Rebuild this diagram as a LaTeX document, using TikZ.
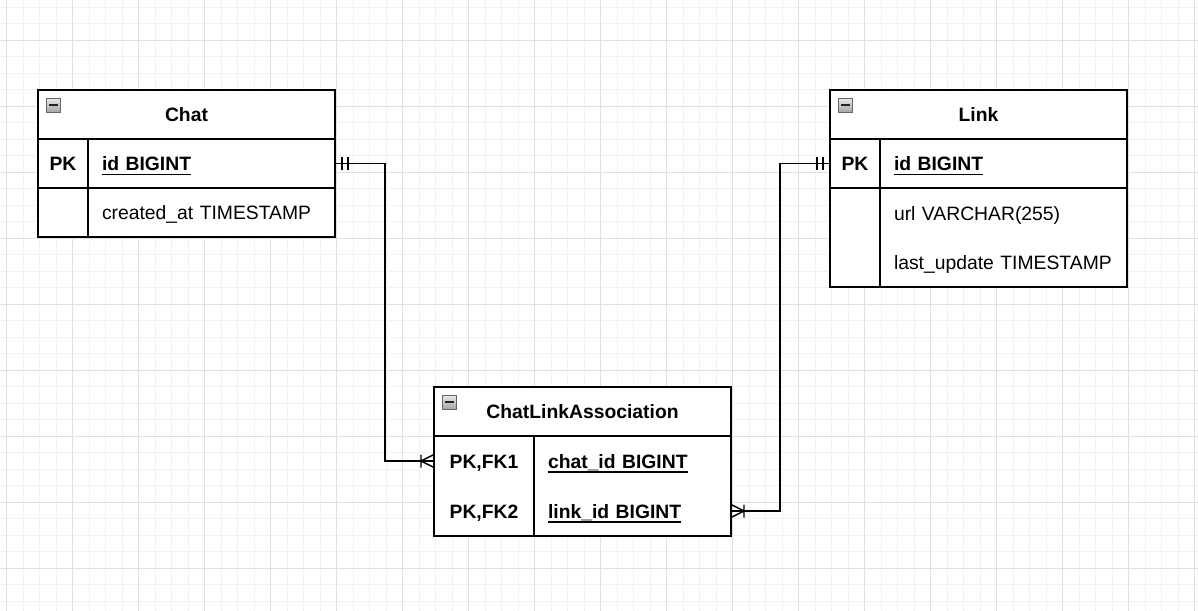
\documentclass[tikz,border=0pt]{standalone}
\usepackage{fontspec}
\setmainfont{Liberation Sans}
\usetikzlibrary{positioning, fit, decorations.markings}
% Subrayado de campos clave
\newcommand{\ulfield}[1]{\setbox0\hbox{#1}\rlap{\rule[-2.4pt]{\wd0}{0.7pt}}\box0}

\begin{document}
\begin{tikzpicture}[
    line width=0.7pt,
    font=\fontsize{11}{13}\selectfont,
    % Estilo para la cuadricula de fondo
    gridminor/.style={draw=black!5, line width=0.4pt},
    gridmajor/.style={draw=black!12, line width=0.5pt},
    % Estilo para la cabecera de cada tabla
    headbox/.style={
        draw,
        fill=white,
        minimum width=5.94cm,
        minimum height=0.98cm,
        text height=9.5pt,
        text depth=1pt,
        inner sep=0pt,
        outer sep=0pt,
        font=\fontsize{11}{13}\selectfont\bfseries
    },
    % Estilo para el icono de plegado (cuadro gris con signo menos)
    iconbox/.style={
        draw=black!60,
        line width=0.5pt,
        top color=black!8,
        bottom color=black!35,
        minimum width=0.29cm,
        minimum height=0.28cm,
        inner sep=0pt,
        outer sep=0pt,
        path picture={
            \draw[line width=0.9pt, black!85]
                ([xshift=0.06cm]path picture bounding box.west) --
                ([xshift=-0.06cm]path picture bounding box.east);
        }
    },
    % Estilo para las celdas de clave (PK, FK)
    keycell/.style={
        fill=white,
        minimum width=#1,
        minimum height=0.98cm,
        text height=9.5pt,
        text depth=1pt,
        inner sep=0pt,
        outer sep=0pt,
        align=center,
        font=\fontsize{11}{13}\selectfont\bfseries
    },
    % Estilo para las celdas de campo
    fieldcell/.style={
        fill=white,
        text width=#1,
        minimum height=0.98cm,
        text height=9.5pt,
        text depth=1pt,
        inner xsep=0.28cm,
        inner ysep=0pt,
        outer sep=0pt,
        align=left
    },
    % Estilo para el marco del cuerpo de la tabla
    framebox/.style={draw, inner sep=0pt, outer sep=0pt},
    % Estilo para las relaciones (uno a muchos)
    onetomany/.style={
        line width=0.7pt,
        postaction={decorate},
        decoration={markings,
            mark=at position 0.14cm with {\draw[line width=0.8pt] (0,-0.13) -- (0,0.13);},
            mark=at position 0.26cm with {\draw[line width=0.8pt] (0,-0.13) -- (0,0.13);},
            mark=at position -0.26cm with {
                \draw[line width=0.8pt] (0,-0.13) -- (0,0.13)
                      (0,0) -- (0.26,0.13)
                      (0,0) -- (0.26,-0.13);}
        }
    }
]

    % ==========================================
    % FONDO Y CUADRICULA
    % ==========================================
    \path[use as bounding box, fill=white] (0,0) rectangle (23.96,-12.2);
    \begin{scope}
        \clip (0,0) rectangle (23.96,-12.2);
        \draw[gridminor, step=0.33cm, shift={(0.134,-0.806)}] (-1.32,1.32) grid (25.08,-13.2);
        \draw[gridmajor, step=1.32cm, shift={(0.134,-0.806)}] (-1.32,1.32) grid (25.08,-13.2);
    \end{scope}


    % ==========================================
    % TABLA Chat (ARRIBA IZQUIERDA)
    % ==========================================
    \node[headbox] (chat) at (3.73, -2.29) {Chat};
    \node[iconbox, below right=0.16cm and 0.16cm of chat.north west] (chaticon) {};

    \node[keycell=1cm, below right=0pt of chat.south west] (chatpk) {PK};
    \node[fieldcell=4.38cm, right=0pt of chatpk] (chatid) {\ulfield{\textbf{id BIGINT}}};
    \node[keycell=1cm, below=0pt of chatpk] (chatk2) {};
    \node[fieldcell=4.38cm, right=0pt of chatk2] (chatcreated) {created\_at TIMESTAMP};

    % Marco y lineas interiores
    \node[framebox, fit=(chatpk) (chatcreated)] (chatbody) {};
    \draw (chatpk.north east) -- (chatk2.south east);
    \draw (chatpk.south west) -- (chatid.south east);


    % ==========================================
    % TABLA Link (ARRIBA DERECHA)
    % ==========================================
    \node[headbox] (link) at (19.57, -2.29) {Link};
    \node[iconbox, below right=0.16cm and 0.16cm of link.north west] (linkicon) {};

    \node[keycell=1cm, below right=0pt of link.south west] (linkpk) {PK};
    \node[fieldcell=4.38cm, right=0pt of linkpk] (linkid) {\ulfield{\textbf{id BIGINT}}};
    \node[keycell=1cm, below=0pt of linkpk, minimum height=1cm] (linkk2) {};
    \node[fieldcell=4.38cm, right=0pt of linkk2, minimum height=1cm] (linkurl) {url VARCHAR(255)};
    \node[keycell=1cm, below=0pt of linkk2] (linkk3) {};
    \node[fieldcell=4.38cm, right=0pt of linkk3] (linkupdate) {last\_update TIMESTAMP};

    % Marco y lineas interiores
    \node[framebox, fit=(linkpk) (linkupdate)] (linkbody) {};
    \draw (linkpk.north east) -- (linkk3.south east);
    \draw (linkpk.south west) -- (linkid.south east);


    % ==========================================
    % TABLA ChatLinkAssociation (ABAJO CENTRO)
    % ==========================================
    \node[headbox] (cla) at (11.65, -8.23) {ChatLinkAssociation};
    \node[iconbox, below right=0.16cm and 0.16cm of cla.north west] (claicon) {};

    \node[keycell=2cm, below right=0pt of cla.south west, minimum height=1cm] (clak1) {PK,FK1};
    \node[fieldcell=3.38cm, right=0pt of clak1, minimum height=1cm] (clachat) {\ulfield{\textbf{chat\_id BIGINT}}};
    \node[keycell=2cm, below=0pt of clak1, minimum height=1cm] (clak2) {PK,FK2};
    \node[fieldcell=3.38cm, right=0pt of clak2, minimum height=1cm] (clalink) {\ulfield{\textbf{link\_id BIGINT}}};

    % Marco y linea interior
    \node[framebox, fit=(clak1) (clalink)] (clabody) {};
    \draw (clak1.north east) -- (clak2.south east);


    % ==========================================
    % RELACIONES
    % ==========================================
    % Chat.id -> ChatLinkAssociation.chat_id
    \draw[onetomany] (chatid.east) -- ++(1.0,0) |- (clak1.west);
    % Link.id -> ChatLinkAssociation.link_id
    \draw[onetomany] (linkpk.west) -- ++(-1.0,0) |- (clalink.east);

\end{tikzpicture}
\end{document}
